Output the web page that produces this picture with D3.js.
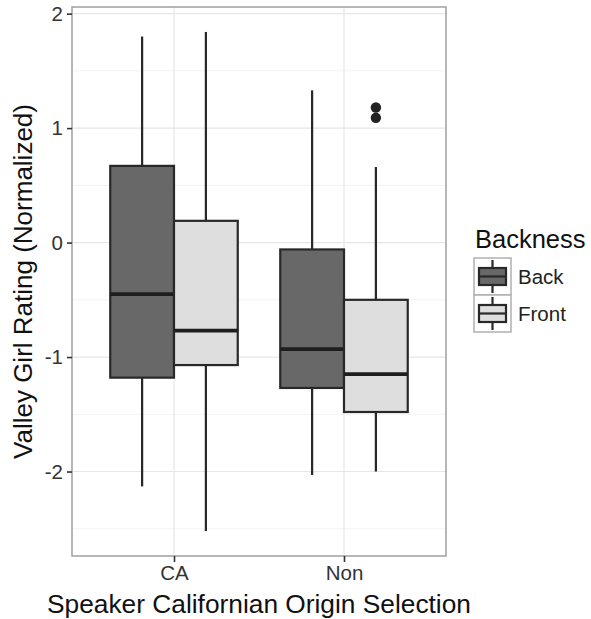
<!DOCTYPE html>
<html lang="en">
<head>
    <meta charset="UTF-8">
    <title>Valley Girl Rating boxplot</title>
    <script src="https://cdn.jsdelivr.net/npm/d3@7"></script>
    <style>
        body { margin: 0; background: #fff; }
        text { font-family: "Liberation Sans", Arial, sans-serif; }
    </style>
</head>
<body>
<div id="chart"></div>
<script>
    // boxplot summary stats (one entry per box)
    const origins = ["CA", "Non"];
    const backness = ["Back", "Front"];
    const boxOrigin = ["CA", "CA", "Non", "Non"];
    const boxGroup = ["Back", "Front", "Back", "Front"];
    const lowerWhisker = [-2.13, -2.52, -2.03, -2.00];
    const lowerHinge = [-1.18, -1.07, -1.27, -1.48];
    const medians = [-0.45, -0.77, -0.93, -1.15];
    const upperHinge = [0.67, 0.19, -0.06, -0.50];
    const upperWhisker = [1.80, 1.84, 1.33, 0.66];
    const outlierOrigin = ["Non", "Non"];
    const outlierGroup = ["Front", "Front"];
    const outlierValue = [1.18, 1.09];
    const yTicks = [-2, -1, 0, 1, 2];
    const yMinor = [-2.5, -1.5, -0.5, 0.5, 1.5];

    const W = 591, H = 619;
    const margin = {top: 7, right: 145, bottom: 63, left: 72};
    const x0 = margin.left, x1 = W - margin.right;
    const y0 = margin.top, y1 = H - margin.bottom;

    const boxes = boxOrigin.map((o, i) => ({
        origin: o, group: boxGroup[i],
        lo: lowerWhisker[i], q1: lowerHinge[i], med: medians[i],
        q3: upperHinge[i], hi: upperWhisker[i]
    }));

    const svg = d3.select("#chart").append("svg")
        .attr("width", W).attr("height", H);
    svg.append("rect").attr("width", W).attr("height", H).attr("fill", "#fff");

    // y domain: data range + 5% like ggplot
    const allVals = lowerWhisker.concat(upperWhisker, outlierValue);
    const ext = d3.extent(allVals);
    const pad = (ext[1] - ext[0]) * 0.05;
    const y = d3.scaleLinear().domain([ext[0] - pad, ext[1] + pad]).range([y1, y0]);

    const x = d3.scalePoint().domain(origins).range([x0, x1]).padding(0.6);
    const step = x.step();
    const dodge = d3.scaleBand().domain(backness).range([-0.375 * step, 0.375 * step]);

    const fill = d3.scaleOrdinal().domain(backness).range(["#686868", "#dedede"]);
    const ink = "#282828";

    // grid
    const grid = svg.append("g");
    grid.selectAll(".minor").data(yMinor).enter().append("line")
        .attr("x1", x0).attr("x2", x1)
        .attr("y1", d => y(d)).attr("y2", d => y(d))
        .attr("stroke", "#f3f3f3").attr("stroke-width", 1);
    grid.selectAll(".major").data(yTicks).enter().append("line")
        .attr("x1", x0).attr("x2", x1)
        .attr("y1", d => y(d)).attr("y2", d => y(d))
        .attr("stroke", "#e6e6e6").attr("stroke-width", 1.2);
    grid.selectAll(".vmajor").data(origins).enter().append("line")
        .attr("x1", d => x(d)).attr("x2", d => x(d))
        .attr("y1", y0).attr("y2", y1)
        .attr("stroke", "#e6e6e6").attr("stroke-width", 1.2);

    // boxes
    const bw = dodge.bandwidth();
    const g = svg.append("g").selectAll("g").data(boxes).enter().append("g")
        .attr("transform", d => `translate(${x(d.origin) + dodge(d.group)},0)`);

    g.append("line")
        .attr("x1", bw / 2).attr("x2", bw / 2)
        .attr("y1", d => y(d.hi)).attr("y2", d => y(d.q3))
        .attr("stroke", ink).attr("stroke-width", 2.2);
    g.append("line")
        .attr("x1", bw / 2).attr("x2", bw / 2)
        .attr("y1", d => y(d.q1)).attr("y2", d => y(d.lo))
        .attr("stroke", ink).attr("stroke-width", 2.2);
    g.append("rect")
        .attr("x", 0).attr("width", bw)
        .attr("y", d => y(d.q3)).attr("height", d => y(d.q1) - y(d.q3))
        .attr("fill", d => fill(d.group))
        .attr("stroke", ink).attr("stroke-width", 2.2);
    g.append("line")
        .attr("x1", 0).attr("x2", bw)
        .attr("y1", d => y(d.med)).attr("y2", d => y(d.med))
        .attr("stroke", "#1e1e1e").attr("stroke-width", 3.8);

    svg.append("g").selectAll("circle").data(outlierValue).enter().append("circle")
        .attr("cx", (d, i) => x(outlierOrigin[i]) + dodge(outlierGroup[i]) + bw / 2)
        .attr("cy", d => y(d))
        .attr("r", 5.2)
        .attr("fill", "#222");

    // panel border
    svg.append("rect")
        .attr("x", x0).attr("y", y0)
        .attr("width", x1 - x0).attr("height", y1 - y0)
        .attr("fill", "none").attr("stroke", "#a6a6a6").attr("stroke-width", 1.6);

    // axes
    const yAxis = svg.append("g")
        .attr("transform", `translate(${x0},0)`)
        .call(d3.axisLeft(y).tickValues(yTicks).tickSize(5).tickPadding(4).tickFormat(d3.format("d")));
    const xAxis = svg.append("g")
        .attr("transform", `translate(0,${y1})`)
        .call(d3.axisBottom(x).tickSize(6).tickPadding(3));
    [yAxis, xAxis].forEach(a => {
        a.select(".domain").remove();
        a.selectAll(".tick line").attr("stroke", "#333").attr("stroke-width", 1.6);
        a.selectAll(".tick text").attr("fill", "#333").style("font-size", "20.5px")
            .style("font-family", "'Liberation Sans', Arial, sans-serif");
    });
    yAxis.selectAll(".tick text").text(d => d < 0 ? "-" + Math.abs(d) : d);

    // titles
    svg.append("text")
        .attr("x", (x0 + x1) / 2).attr("y", 613)
        .attr("text-anchor", "middle")
        .style("font-size", "26.3px").attr("fill", "#111")
        .text("Speaker Californian Origin Selection");
    svg.append("text")
        .attr("transform", `translate(32,${(y0 + y1) / 2}) rotate(-90)`)
        .attr("text-anchor", "middle")
        .style("font-size", "26px").attr("fill", "#111")
        .text("Valley Girl Rating (Normalized)");

    // legend
    const key = 37;
    const legend = svg.append("g").attr("transform", "translate(474,258)");
    legend.append("text").attr("x", 1).attr("y", -10)
        .style("font-size", "25.5px").attr("fill", "#111").text("Backness");
    const items = legend.selectAll("g").data(backness).enter().append("g")
        .attr("transform", (d, i) => `translate(0,${i * key})`);
    items.append("rect").attr("width", key).attr("height", key)
        .attr("fill", "#fff").attr("stroke", "#b0b0b0").attr("stroke-width", 1.5);
    items.append("line").attr("x1", key / 2).attr("x2", key / 2)
        .attr("y1", 2).attr("y2", key - 2)
        .attr("stroke", ink).attr("stroke-width", 2.2);
    items.append("rect").attr("x", 5).attr("y", 10)
        .attr("width", key - 10).attr("height", key - 20)
        .attr("fill", d => fill(d)).attr("stroke", ink).attr("stroke-width", 2.2);
    items.append("line").attr("x1", 5).attr("x2", key - 5)
        .attr("y1", key / 2).attr("y2", key / 2)
        .attr("stroke", ink).attr("stroke-width", 2.2);
    items.append("text").attr("x", key + 7).attr("y", key / 2 + 7)
        .style("font-size", "20.5px").attr("fill", "#222").text(d => d);
</script>
</body>
</html>
